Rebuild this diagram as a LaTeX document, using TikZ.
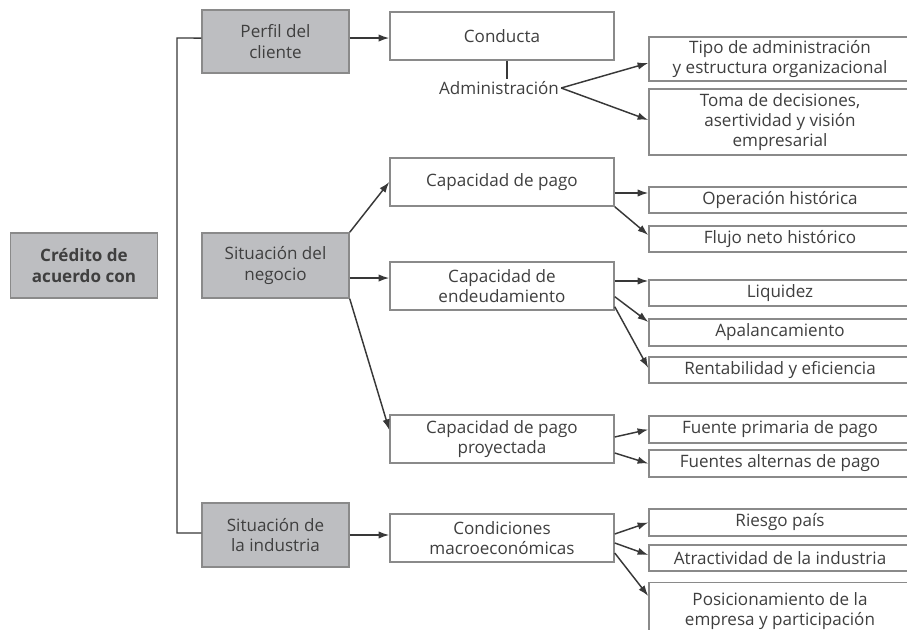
\documentclass[tikz,border=0pt]{standalone}
\usepackage{fontspec}
\setmainfont{Open Sans}
\usetikzlibrary{arrows.meta}
\definecolor{boxgray}{HTML}{BDBEC1}
\definecolor{edgegray}{HTML}{8A8A8A}
\definecolor{txtgray}{HTML}{3F3F3F}
\definecolor{linegray}{HTML}{383838}
\newcommand\dfont{\fontsize{12.8}{15.2}\selectfont}
\begin{document}
\begin{tikzpicture}[x=0.75pt,y=-0.75pt,
  gbox/.style={draw=edgegray, fill=boxgray, line width=1.1pt, align=center,
    minimum width=110.25pt, inner sep=1.5pt, text=txtgray, font=\dfont},
  wbox/.style={draw=edgegray, fill=white, line width=1.1pt, align=center,
    inner sep=1.5pt, text=txtgray, font=\dfont},
  midbox/.style={wbox, minimum width=168pt, minimum height=36pt},
  rbox/.style={wbox, minimum width=196.5pt},
  conn/.style={draw=linegray, line width=1.1pt},
  arr/.style={conn, -{Latex[length=8pt,width=5.5pt]}}]
\useasboundingbox (0,0) rectangle (907,630);
\clip (0,0) rectangle (907,630);

% gray boxes
\node[gbox, minimum height=48.75pt, font=\dfont\bfseries] (cred) at (84,265.5) {Crédito de\\acuerdo con};
\node[gbox, minimum height=47.25pt] (perfil) at (275.5,41.5) {Perfil del\\cliente};
\node[gbox, minimum height=48.75pt] (negocio) at (275.5,265.5) {Situación del\\negocio};
\node[gbox, minimum height=48pt] (industria) at (275.5,535) {Situación de\\la industria};

% middle boxes
\node[midbox] (conducta) at (502,36) {Conducta};
\node[midbox] (cpago) at (502,182) {Capacidad de pago};
\node[midbox] (cendeu) at (502,286) {Capacidad de\\endeudamiento};
\node[midbox] (cproy) at (502,439) {Capacidad de pago\\proyectada};
\node[midbox] (cond) at (502,538) {Condiciones\\macroeconómicas};

\node[text=txtgray, font=\dfont, inner sep=1.5pt] (adm) at (499,88) {Administración};

% right boxes
\node[rbox, minimum height=33pt] (tipo) at (780,59) {Tipo de administración\\y estructura organizacional};
\node[rbox, minimum height=49.5pt] (toma) at (780,122) {Toma de decisiones,\\asertividad y visión\\empresarial};
\node[rbox, minimum height=19.5pt] (oper) at (780,200) {Operación histórica};
\node[rbox, minimum height=19.5pt] (flujo) at (780,239) {Flujo neto histórico};
\node[rbox, minimum height=19.5pt] (liq) at (780,293) {Liquidez};
\node[rbox, minimum height=20.25pt] (apal) at (780,332.5) {Apalancamiento};
\node[rbox, minimum height=19.5pt] (rent) at (780,370) {Rentabilidad y eficiencia};
\node[rbox, minimum height=20.25pt] (fprim) at (780,429.5) {Fuente primaria de pago};
\node[rbox, minimum height=20.25pt] (falt) at (780,463.5) {Fuentes alternas de pago};
\node[rbox, minimum height=20.25pt] (riesgo) at (780,522.5) {Riesgo país};
\node[rbox, minimum height=19.5pt] (atrac) at (780,558) {Atractividad de la industria};
\node[rbox, anchor=north, inner ysep=7pt] (posic) at (780,582) {Posicionamiento de la\\empresa y participación};

% trunk
\coordinate (trunkTop) at (177,38);
\coordinate (trunkBot) at (177,533);
\draw[conn] ([yshift=2.6pt]perfil.west) -- (trunkTop) -- (trunkBot) -- (industria.west |- trunkBot);

% level 1 -> 2
\draw[arr] ([yshift=2.6pt]perfil.east) -- ([yshift=2.6pt]perfil.east -| conducta.west);
\draw[arr] (negocio.north east) -- (cpago.west);
\draw[arr] ([yshift=-9.4pt]negocio.east) -- ([yshift=-9.4pt]negocio.east -| cendeu.west);
\draw[arr] (negocio.south east) -- ([yshift=6.75pt]cproy.west);
\draw[arr] (industria.east) -- (industria.east -| cond.west);

% conducta / administración
\draw[conn] ([xshift=3.75pt]conducta.south) -- ([xshift=3.75pt]conducta.south |- adm.north);
\draw[arr] (adm.east) -- ([yshift=-3pt]tipo.west);
\draw[arr] (adm.east) -- ([yshift=1.5pt]toma.west);

% capacidad de pago
\draw[arr] ([yshift=-8.25pt]cpago.east) -- ([yshift=-8.25pt]cpago.east -| oper.west);
\draw[arr] (cpago.south east) -- ([yshift=3pt]flujo.west);

% endeudamiento
\draw[arr] ([yshift=3.75pt]cendeu.east) -- ([yshift=3.75pt]cendeu.east -| liq.west);
\draw[arr] ([yshift=-8pt]cendeu.east) -- ([yshift=7.9pt]apal.west);
\draw[arr] ([yshift=3pt]cendeu.south east) -- ([yshift=1.5pt]rent.west);

% proyectada
\draw[arr] ([yshift=1.5pt]cproy.east) -- (fprim.west);
\draw[arr] ([yshift=-10.5pt]cproy.east) -- (falt.west);

% condiciones
\draw[arr] ([yshift=3pt]cond.east) -- (riesgo.west);
\draw[arr] ([yshift=-3.75pt]cond.east) -- ([yshift=2.25pt]atrac.west);
\draw[arr] ([yshift=-11.25pt]cond.east) -- ([yshift=-10.5pt]posic.north west);
\end{tikzpicture}
\end{document}
